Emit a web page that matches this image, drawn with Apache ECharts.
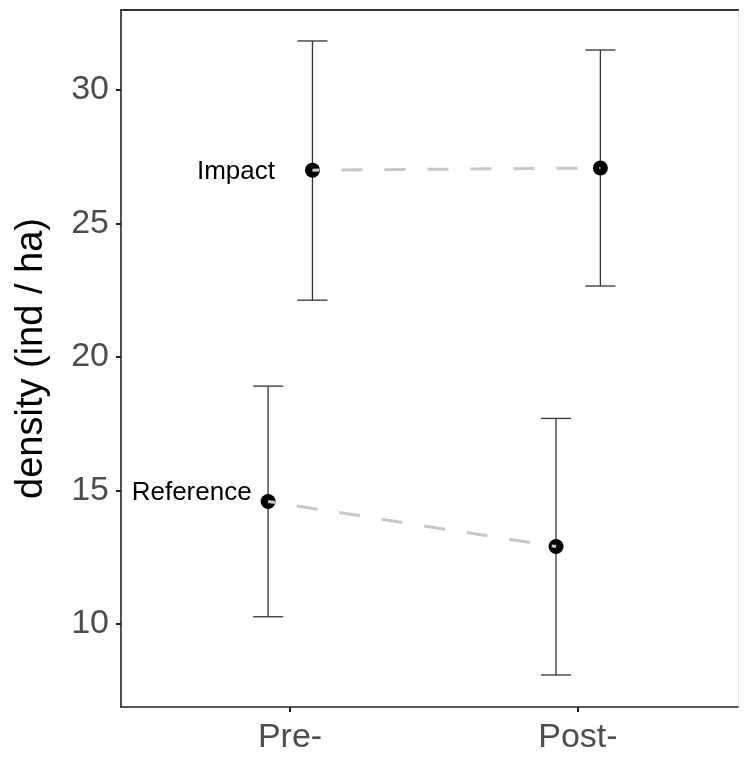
<!DOCTYPE html>
<html>
<head>
<meta charset="utf-8">
<script src="https://cdn.jsdelivr.net/npm/echarts@6/dist/echarts.min.js"></script>
<style>html,body{margin:0;padding:0;background:#fff}#c{width:744px;height:757px}</style>
</head>
<body>
<div id="c"></div>
<script>
var periods = ['Pre-', 'Post-'];
var groups = ['Impact', 'Reference'];
var meanImpact = [27.0, 27.08];
var lowImpact = [22.13, 22.66];
var highImpact = [31.84, 31.5];
var meanReference = [14.59, 12.9];
var lowReference = [10.27, 8.09];
var highReference = [18.91, 17.7];
var yTicks = [10, 15, 20, 25, 30];

var dodge = { Impact: 0.078, Reference: -0.076 };
var FONT = '"Liberation Sans", Arial, sans-serif';

function pts(g, means, lows, highs) {
  return periods.map(function (p, i) {
    return [i + 1 + dodge[g], means[i], lows[i], highs[i]];
  });
}
var impactPts = pts('Impact', meanImpact, lowImpact, highImpact);
var refPts = pts('Reference', meanReference, lowReference, highReference);

function errRender(params, api) {
  var x = api.value(0), lo = api.value(2), hi = api.value(3);
  var a = api.coord([x, hi]), b = api.coord([x, lo]);
  var hw = 15;
  var st = { stroke: '#333333', lineWidth: 1.3 };
  return { type: 'group', children: [
    { type: 'line', shape: { x1: a[0], y1: a[1], x2: b[0], y2: b[1] }, style: st },
    { type: 'line', shape: { x1: a[0] - hw, y1: a[1], x2: a[0] + hw, y2: a[1] }, style: st },
    { type: 'line', shape: { x1: b[0] - hw, y1: b[1], x2: b[0] + hw, y2: b[1] }, style: st }
  ]};
}

var labelStyle = {
  Impact: { distance: 30, offset: [0, 2] },
  Reference: { distance: 9, offset: [0, -9] }
};

function pointSeries(g, data) {
  return {
    type: 'scatter', name: g, z: 3,
    symbol: 'circle', symbolSize: 15,
    itemStyle: { color: '#000000', opacity: 1 },
    data: data.map(function (d, i) {
      var item = { value: [d[0], d[1]] };
      if (i === 0) {
        item.label = {
          show: true, formatter: g, position: 'left',
          distance: labelStyle[g].distance, offset: labelStyle[g].offset,
          color: '#000000', fontSize: 26, fontFamily: FONT
        };
      }
      return item;
    })
  };
}

function lineSeries(g, data) {
  return {
    type: 'line', name: g + ' line', z: 4, symbol: 'none',
    lineStyle: { color: '#c8c8c8', width: 3, type: [21, 22], dashOffset: 14 },
    data: data.map(function (d) { return [d[0], d[1]]; })
  };
}

var chart = echarts.init(document.getElementById('c'), null, { renderer: 'canvas' });
chart.setOption({
  animation: false,
  backgroundColor: '#ffffff',
  grid: { left: 121, right: 6, top: 10, bottom: 50, containLabel: false },
  xAxis: [{
    type: 'value', min: 0.413, max: 2.556,
    splitLine: { show: false },
    axisLine: { show: true, onZero: false, lineStyle: { color: '#222', width: 1.6 } },
    axisTick: { show: true, customValues: [1, 2], length: 5, lineStyle: { color: '#222', width: 2 } },
    axisLabel: { show: true, customValues: [1, 2], margin: 14,
      formatter: function (v) { return periods[Math.round(v) - 1] || ''; },
      color: '#4d4d4d', fontSize: 34, fontFamily: FONT }
  }, {
    type: 'value', position: 'top', min: 0.413, max: 2.556,
    splitLine: { show: false },
    axisLine: { show: true, onZero: false, lineStyle: { color: '#333', width: 2 } },
    axisTick: { show: false }, axisLabel: { show: false }
  }],
  yAxis: [{
    type: 'value', min: 6.89, max: 33.0,
    name: 'density (ind / ha)', nameLocation: 'middle', nameGap: 70,
    nameTextStyle: { color: '#000', fontSize: 38, fontFamily: FONT },
    splitLine: { show: false },
    axisLine: { show: true, onZero: false, lineStyle: { color: '#222', width: 1.6 } },
    axisTick: { show: true, customValues: yTicks, length: 5, lineStyle: { color: '#222', width: 2 } },
    axisLabel: { show: true, customValues: yTicks, margin: 12,
      color: '#4d4d4d', fontSize: 34, fontFamily: FONT }
  }, {
    type: 'value', position: 'right', min: 6.89, max: 33.0,
    splitLine: { show: false },
    axisLine: { show: true, onZero: false, lineStyle: { color: '#e6e6e6', width: 1 } },
    axisTick: { show: false }, axisLabel: { show: false }
  }],
  series: [
    { type: 'custom', name: 'Impact err', renderItem: errRender, z: 2, data: impactPts },
    { type: 'custom', name: 'Reference err', renderItem: errRender, z: 2, data: refPts },
    pointSeries('Impact', impactPts),
    pointSeries('Reference', refPts),
    lineSeries('Impact', impactPts),
    lineSeries('Reference', refPts)
  ]
});
</script>
</body>
</html>
